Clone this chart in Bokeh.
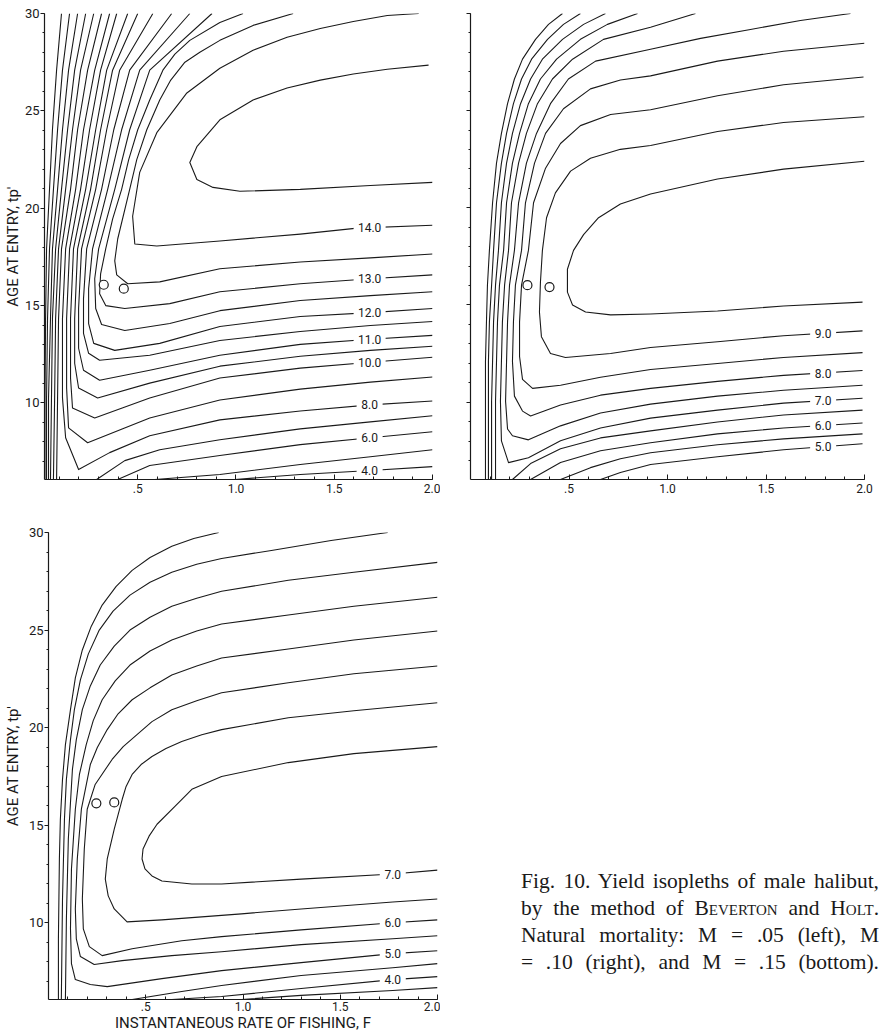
from bokeh.plotting import figure
from bokeh.models import Range1d, FixedTicker, Div
from bokeh.layouts import row, column
from bokeh.core.properties import value
from bokeh.embed import file_html
from bokeh.resources import INLINE

# ---------------- axes ----------------
X_TICKS = [0.5, 1.0, 1.5, 2.0]
X_TICK_LABELS = [".5", "1.0", "1.5", "2.0"]
X_MINOR = [0.1, 0.2, 0.3, 0.4, 0.5, 0.6, 0.7, 0.8, 0.9, 1.0,
           1.1, 1.2, 1.3, 1.4, 1.5, 1.6, 1.7, 1.8, 1.9, 2.0]
Y_TICKS = [10, 15, 20, 25, 30]
Y_TICK_LABELS = ["10", "15", "20", "25", "30"]
Y_MINOR = [7, 8, 9, 10, 11, 12, 13, 14, 15, 16, 17, 18, 19, 20, 21, 22, 23,
           24, 25, 26, 27, 28, 29, 30]

# ---------------- M = .05 (top left): isopleths (F, tp') ----------------
TL = [30, 27.09, 24.03, 20.97, 17.91, 14.34, 10.26, 6.07]
M05_LINES = {
    "2.0": ([.112, .087, .066, .051, .036, .031, .028, .028], TL),
    "3.0": ([.153, .117, .092, .071, .051, .041, .036, .036], TL),
    "4.0": ([.194, .148, .117, .092, .066, .056, .046, .046], TL),
    "5.0": ([.235, .179, .143, .112, .082, .066, .061, .056], TL),
    "6.0": ([.276, .209, .168, .133, .097, .082, .077, .071], TL),
    "7.0": ([.316, .245, .194, .158, .112, .097, .092, .087], TL),
    "4.0b": ([.995, 1.327, 1.684, 2.0], [6.07, 6.33, 6.53, 6.73]),
    "5.0b": ([.587, .918, 1.327, 1.684, 2.0], [6.07, 6.33, 6.84, 7.24, 7.60]),
    "6.0b": ([.398, .561, .918, 1.327, 1.684, 2.0], [6.07, 6.79, 7.30, 7.86, 8.21, 8.52]),
    "7.0b": ([.291, .434, .612, .918, 1.327, 1.684, 2.0], [6.07, 7.04, 7.60, 8.11, 8.67, 9.03, 9.34]),
    "8.0": ([.357, .281, .224, .184, .133, .117, .117, .133, .199, .357, .561, .918, 1.327, 1.684, 2.0],
            [30, 27.09, 24.03, 20.97, 17.91, 14.34, 10.26, 8.21, 6.58, 7.45, 8.32, 9.13, 9.59, 9.90, 10.10]),
    "9.0": ([.393, .311, .255, .209, .153, .138, .138, .148, .245, .561, .918, 1.327, 1.684, 2.0],
            [30, 27.09, 24.03, 20.97, 17.91, 14.34, 10.77, 8.72, 7.96, 9.23, 10.15, 10.71, 11.07, 11.33]),
    "10.0": ([.449, .342, .286, .235, .173, .158, .158, .168, .281, .561, .918, 1.327, 1.684, 2.0],
             [30, 27.09, 24.03, 20.97, 17.91, 14.34, 11.28, 9.74, 9.23, 10.26, 11.28, 11.79, 12.09, 12.35]),
    "10.5": ([.5, .372, .311, .260, .194, .179, .179, .199, .296, .561, .918, 1.327, 1.684, 2.0],
             [30, 27.09, 24.03, 20.97, 17.91, 14.34, 12.04, 10.77, 10.26, 11.02, 11.89, 12.40, 12.70, 12.91]),
    "11.0": ([.577, .408, .342, .286, .214, .199, .199, .224, .306, .561, .918, 1.327, 1.684, 2.0],
             [30, 27.09, 24.03, 20.97, 17.91, 14.85, 12.81, 11.68, 11.17, 11.68, 12.45, 13.01, 13.27, 13.47]),
    "11.5": ([.673, .459, .378, .316, .240, .224, .224, .250, .306, .561, .918, 1.327, 1.684, 2.0],
             [30, 27.09, 24.03, 20.97, 17.91, 15.36, 13.57, 12.55, 12.19, 12.45, 13.21, 13.67, 13.98, 14.18]),
    "12.0": ([.765, .510, .418, .347, .270, .250, .250, .276, .383, .612, .918, 1.327, 1.684, 2.0],
             [30, 27.09, 24.03, 20.97, 17.91, 15.87, 14.08, 13.06, 12.70, 13.06, 13.93, 14.44, 14.64, 14.85]),
    "12.5": ([.878, .561, .459, .383, .301, .281, .286, .316, .434, .663, .918, 1.327, 1.684, 2.0],
             [30, 27.09, 24.03, 20.97, 17.91, 16.38, 14.85, 14.03, 13.72, 14.08, 14.74, 15.26, 15.51, 15.71]),
    "13.0": ([1.036, .918, .765, .689, .628, .561, .5, .454, .418, .372, .337, .311, .306, .337, .434, .663, .918,
              1.327, 1.684, 2.0],
             [30, 29.54, 28.62, 27.91, 27.09, 25.56, 24.03, 22.50, 20.97, 19.44, 17.91, 16.63, 15.61, 15.0, 14.85,
              15.10, 15.71, 16.12, 16.38, 16.58]),
    "13.5": ([1.291, 1.087, .918, .816, .740, .668, .612, .546, .495, .459, .398, .383, .393, .449, .612, .918,
              1.327, 1.684, 2.0],
             [30, 29.39, 28.62, 28.01, 27.5, 26.58, 25.56, 24.03, 22.50, 20.97, 18.42, 17.30, 16.58, 16.12, 16.22,
              16.89, 17.24, 17.45, 17.65]),
    "14.0": ([1.93, 1.770, 1.597, 1.429, 1.26, 1.087, .918, .750, .597, .510, .474, .485, .597, .918, 1.327, 1.617, 2.0],
             [30, 29.90, 29.59, 29.23, 28.78, 28.11, 27.19, 25.92, 23.88, 21.84, 19.59, 18.16, 18.06, 18.32, 18.67,
              18.98, 19.13]),
    "14.5": ([1.980, 1.770, 1.597, 1.429, 1.26, 1.087, .918, .801, .765, .801, .883, 1.02, 1.327, 1.684, 2.0],
             [27.35, 27.14, 26.89, 26.58, 26.17, 25.56, 24.54, 23.16, 22.35, 21.48, 21.07, 20.87, 20.97, 21.17, 21.33]),
}
M05_LABEL_F = [1.68, 1.68, 1.68, 1.68, 1.68, 1.68, 1.68, 1.68]
M05_LABEL_T = [19.0, 16.38, 14.64, 13.27, 12.09, 9.90, 8.21, 6.53]
M05_LABEL_TEXT = ["14.0", "13.0", "12.0", "11.0", "10.0", "8.0", "6.0", "4.0"]
M05_CIRCLE_F = [.327, .429]
M05_CIRCLE_T = [16.07, 15.87]

# ---------------- M = .10 (top right) ----------------
TU = [30, 29.44, 28.67, 27.65, 26.63, 25.36, 23.83, 22.30, 20.26, 17.81, 16.02, 14.13, 12.09, 10.05, 6.02]
M10_LINES = {
    "5.0": ([.467, .396, .330, .264, .223, .188, .157, .132, .112, .096, .086, .081, .076, .076, .076], TU),
    "5.0b": ([.660, .761, .914, 1.254, 1.589, 1.990], [6.02, 6.38, 6.79, 7.19, 7.55, 7.86]),
    "5.5": ([.558, .472, .391, .310, .259, .218, .183, .157, .132, .117, .107, .096, .091, .091, .091], TU),
    "5.5b": ([.457, .609, .761, .914, 1.254, 1.589, 1.990], [6.02, 6.63, 7.09, 7.40, 7.81, 8.11, 8.37]),
    "6.0": ([.685, .574, .467, .365, .305, .254, .213, .183, .157, .142, .127, .117, .112, .107, .107], TU),
    "6.0b": ([.305, .457, .660, .914, 1.254, 1.589, 1.990], [6.02, 6.89, 7.50, 7.91, 8.37, 8.67, 8.93]),
    "6.5": ([.848, .695, .558, .437, .355, .294, .249, .213, .183, .168, .147, .137, .132, .127, .127], TU),
    "6.5b": ([.213, .305, .457, .660, .914, 1.254, 1.589, 1.990], [6.02, 6.84, 7.60, 8.16, 8.52, 8.98, 9.34, 9.59]),
    "7.0": ([1.142, .914, .675, .518, .416, .340, .284, .244, .208, .193, .173, .162, .157, .152, .157, .193, .294,
             .457, .660, .914, 1.254, 1.589, 1.990],
            [30, 29.29, 28.67, 27.65, 26.63, 25.36, 23.83, 22.30, 20.26, 17.81, 16.02, 14.13, 12.09, 10.05, 8.01, 6.89,
             7.14, 8.01, 8.67, 9.18, 9.59, 9.95, 10.20]),
    "7.5": ([1.929, 1.675, 1.421, 1.168, .914, .635, .497, .406, .335, .284, .244, .223, .198, .188, .183, .178, .188,
             .213, .294, .457, .660, .914, 1.254, 1.589, 1.990],
            [30, 29.64, 29.18, 28.72, 28.16, 27.55, 26.63, 25.36, 23.83, 22.30, 20.26, 17.81, 16.02, 14.13, 12.09, 10.05,
             8.62, 8.27, 8.06, 8.78, 9.44, 9.90, 10.31, 10.61, 10.87]),
    "8.0": ([2.0, 1.589, 1.254, .914, .761, .609, .472, .381, .325, .279, .259, .228, .218, .213, .223, .264, .305,
             .457, .660, .914, 1.254, 1.589, 1.990],
            [28.47, 28.06, 27.55, 26.79, 26.58, 26.12, 25.10, 23.83, 22.30, 20.26, 17.81, 16.02, 14.13, 12.09, 10.31,
             9.54, 9.29, 9.85, 10.36, 10.71, 11.07, 11.38, 11.63]),
    "8.5": ([1.995, 1.589, 1.254, .914, .711, .558, .457, .381, .320, .294, .259, .249, .249, .264, .315, .457, .660,
             .914, 1.254, 1.589, 1.990],
            [26.73, 26.33, 25.77, 25.05, 24.80, 24.23, 23.31, 22.04, 20.26, 17.81, 16.02, 14.13, 12.35, 11.17, 10.71,
             10.87, 11.28, 11.68, 11.99, 12.30, 12.55]),
    "9.0": ([2.0, 1.589, 1.254, .914, .761, .609, .508, .431, .386, .365, .355, .350, .360, .406, .482, .711, .914,
             1.254, 1.589, 1.990],
            [24.69, 24.39, 23.93, 23.21, 23.01, 22.55, 21.89, 20.77, 19.49, 17.81, 16.17, 14.64, 13.37, 12.50, 12.30,
             12.50, 12.81, 13.11, 13.42, 13.67]),
    "9.5": ([2.0, 1.589, 1.254, .914, .761, .650, .574, .523, .492, .492, .518, .584, .711, .914, 1.254, 1.589, 1.990],
            [22.40, 21.99, 21.48, 20.71, 20.20, 19.49, 18.62, 17.81, 16.84, 15.66, 15.00, 14.64, 14.49, 14.54, 14.69,
             14.95, 15.15]),
}
M10_LABEL_F = [1.79, 1.79, 1.79, 1.79, 1.79]
M10_LABEL_T = [13.55, 11.50, 10.08, 8.80, 7.70]
M10_LABEL_TEXT = ["9.0", "8.0", "7.0", "6.0", "5.0"]
M10_CIRCLE_F = [.289, .401]
M10_CIRCLE_T = [16.02, 15.92]

# ---------------- M = .15 (bottom) ----------------
M15_LINES = {
    "3.5": ([.875, .747, .634, .522, .430, .348, .276, .220, .174, .138, .113, .087, .072, .061, .056, .051, .051],
            [30, 29.69, 29.29, 28.72, 28.06, 27.24, 26.28, 25.20, 23.98, 22.55, 20.92, 19.13, 17.35, 15.31, 13.27,
             9.18, 6.07]),
    "3.5b": ([.992, 1.299, 1.770, 2.0], [6.07, 6.28, 6.53, 6.68]),
    "4.0": ([1.744, 1.453, 1.146, .890, .762, .634, .522, .419, .332, .261, .205, .164, .133, .113, .092, .082, .072,
             .066],
            [30, 29.59, 29.08, 28.67, 28.37, 27.96, 27.45, 26.79, 25.97, 25.0, 23.78, 22.45, 20.92, 19.39, 17.35,
             15.31, 11.22, 6.07]),
    "4.0b": ([.634, .890, 1.299, 1.770, 2.0], [6.07, 6.22, 6.63, 7.09, 7.24]),
    "4.5": ([2.0, 1.570, 1.233, .890, .762, .634, .522, .419, .338, .266, .215, .174, .143, .123, .102, .092, .087],
            [28.47, 27.96, 27.55, 26.99, 26.63, 26.22, 25.66, 25.0, 24.18, 23.21, 22.14, 20.92, 19.39, 17.86, 14.29,
             10.20, 6.07]),
    "4.5b": ([.430, .685, .890, 1.299, 1.770, 2.0], [6.07, 6.48, 6.79, 7.30, 7.70, 7.91]),
    "5.0": ([2.0, 1.570, 1.233, .890, .762, .634, .522, .419, .343, .276, .230, .194, .159, .138, .118, .113, .118,
             .138, .215, .302, .583, .890, 1.299, 1.770, 2.0],
            [26.68, 26.22, 25.77, 25.31, 24.95, 24.49, 23.93, 23.21, 22.40, 21.43, 20.36, 19.13, 17.60, 15.82, 12.76,
             9.69, 7.91, 7.09, 6.84, 6.73, 7.14, 7.55, 7.96, 8.42, 8.57]),
    "5.5": ([2.0, 1.570, 1.233, .890, .762, .634, .522, .430, .358, .302, .251, .215, .169, .148, .138, .143, .164,
             .235, .379, .634, .890, 1.299, 1.770, 2.0],
            [24.95, 24.49, 24.03, 23.57, 23.16, 22.70, 22.04, 21.43, 20.71, 19.90, 18.98, 18.11, 15.82, 13.27, 10.71,
             9.18, 8.27, 7.86, 8.06, 8.32, 8.52, 8.88, 9.18, 9.34]),
    "6.0": ([2.0, 1.570, 1.233, .890, .762, .634, .532, .455, .384, .327, .240, .199, .184, .174, .179, .210, .276,
             .430, .685, .890, 1.299, 1.770, 2.0],
            [23.16, 22.76, 22.30, 21.79, 21.38, 20.92, 20.31, 19.64, 19.03, 18.37, 17.09, 15.82, 13.78, 11.22, 9.69,
             8.78, 8.32, 8.67, 9.08, 9.29, 9.64, 10.0, 10.15]),
    "6.5": ([2.0, 1.570, 1.233, .890, .788, .685, .604, .532, .476, .430, .399, .379, .338, .302, .292, .307, .338,
             .404, .583, .992, 1.299, 1.770, 2.0],
            [21.28, 20.87, 20.51, 19.90, 19.64, 19.29, 18.93, 18.52, 18.11, 17.60, 16.99, 16.33, 14.80, 13.27, 12.24,
             11.38, 10.71, 10.05, 10.15, 10.46, 10.71, 11.07, 11.22]),
    "7.0": ([2.0, 1.570, 1.233, .890, .737, .650, .558, .517, .486, .481, .496, .532, .583, .737, .890, 1.299, 1.770, 2.0],
            [19.03, 18.67, 18.21, 17.50, 16.84, 15.97, 15.05, 14.44, 13.78, 13.27, 12.76, 12.40, 12.14, 11.99, 11.99,
             12.24, 12.50, 12.70]),
}
M15_LABEL_F = [1.77, 1.77, 1.77, 1.77]
M15_LABEL_T = [12.50, 10.0, 8.42, 7.09]
M15_LABEL_TEXT = ["7.0", "6.0", "5.0", "4.0"]
M15_CIRCLE_F = [.246, .338]
M15_CIRCLE_T = [16.12, 16.17]

Y_TITLE = "AGE AT ENTRY, tp'"
X_TITLE = "INSTANTANEOUS RATE OF FISHING, F"

FONT = "Roboto"
INK = "#1a1a1a"


def make_panel(lines, lab_f, lab_t, lab_s, circ_f, circ_t, x_start, y_start,
               width, height, borders, show_ylabels, ytitle=None, xtitle=None,
               ytitle_standoff=1, xlab_standoff=4):
    bl, br, bt, bb = borders
    p = figure(width=width, height=height,
               x_range=Range1d(x_start, 2.0), y_range=Range1d(y_start, 30.0),
               output_backend="svg", toolbar_location=None,
               min_border_left=bl, min_border_right=br,
               min_border_top=bt, min_border_bottom=bb,
               background_fill_color="white", border_fill_color="white",
               outline_line_color=None)
    p.xgrid.visible = False
    p.ygrid.visible = False
    keys = list(lines.keys())
    p.multi_line([lines[k][0] for k in keys], [lines[k][1] for k in keys],
                 line_color=INK, line_width=1.1, line_join="round")
    p.rect(x=lab_f, y=lab_t, width=[8 + 6 * len(s) for s in lab_s], height=9,
           width_units="screen", height_units="screen",
           fill_color="white", line_color=None)
    p.text(x=lab_f, y=lab_t, text=lab_s, text_align="center", text_baseline="middle",
           text_font=value(FONT), text_font_size="12px", text_color=INK)
    p.scatter(circ_f, circ_t, marker="circle", size=9, fill_color="white",
              line_color=INK, line_width=1.2)

    xa = p.xaxis[0]
    xa.ticker = FixedTicker(ticks=X_TICKS, minor_ticks=X_MINOR)
    xa.major_label_overrides = dict(zip(X_TICKS, X_TICK_LABELS))
    xa.major_tick_in = 5
    xa.major_tick_out = 0
    xa.minor_tick_in = 3
    xa.minor_tick_out = 0
    xa.major_label_standoff = xlab_standoff
    xa.major_label_text_font = FONT
    xa.major_label_text_font_size = "12px"
    xa.major_label_text_color = INK
    xa.axis_line_color = INK
    xa.axis_line_width = 1.2
    xa.major_tick_line_color = INK
    xa.minor_tick_line_color = INK
    if xtitle:
        xa.axis_label = xtitle
        xa.axis_label_text_font = FONT
        xa.axis_label_text_font_size = "15px"
        xa.axis_label_text_font_style = "normal"
        xa.axis_label_text_color = INK
        xa.axis_label_standoff = 0

    ya = p.yaxis[0]
    ya.ticker = FixedTicker(ticks=Y_TICKS, minor_ticks=Y_MINOR)
    if show_ylabels:
        ya.major_label_overrides = dict(zip(Y_TICKS, Y_TICK_LABELS))
    else:
        ya.major_label_overrides = dict(zip(Y_TICKS, ["" for _ in Y_TICKS]))
    ya.major_tick_in = 0
    ya.major_tick_out = 4
    ya.minor_tick_in = 0
    ya.minor_tick_out = 2
    ya.major_label_standoff = 1
    ya.axis_line_color = INK
    ya.axis_line_width = 1.2
    ya.major_tick_line_color = INK
    ya.minor_tick_line_color = INK
    ya.major_label_text_font = FONT
    ya.major_label_text_color = INK
    ya.major_label_text_font_size = "13px"
    if ytitle:
        ya.axis_label = ytitle
        ya.axis_label_text_font = FONT
        ya.axis_label_text_font_size = "15px"
        ya.axis_label_text_font_style = "normal"
        ya.axis_label_text_color = INK
        ya.axis_label_standoff = ytitle_standoff
    return p


p1 = make_panel(M05_LINES, M05_LABEL_F, M05_LABEL_T, M05_LABEL_TEXT, M05_CIRCLE_F, M05_CIRCLE_T,
                0.0255, 6.07, 440, 510, (39, 8, 13, 28), True, ytitle=Y_TITLE, ytitle_standoff=0)
p2 = make_panel(M10_LINES, M10_LABEL_F, M10_LABEL_T, M10_LABEL_TEXT, M10_CIRCLE_F, M10_CIRCLE_T,
                0.0, 6.02, 441, 510, (30, 17, 9, 31), False)
p3 = make_panel(M15_LINES, M15_LABEL_F, M15_LABEL_T, M15_LABEL_TEXT, M15_CIRCLE_F, M15_CIRCLE_T,
                0.0, 6.07, 440, 524, (46, 3, 22, 33), True, ytitle=Y_TITLE, xtitle=X_TITLE,
                ytitle_standoff=4, xlab_standoff=2)

SC = 'font-variant:small-caps'
LINE = ('<div style="text-align:justify;text-align-last:justify;white-space:nowrap;'
        'height:27px;">{}</div>')
caption_lines = [
    "Fig. 10. Yield isopleths of male halibut,",
    'by the method of <span style="%s">Beverton</span> and <span style="%s">Holt</span>.' % (SC, SC),
    "Natural mortality: M = .05 (left), M",
    "= .10 (right), and M = .15 (bottom).",
]
cap_html = ('<div style="padding:358px 0 0 81px;margin:0;">'
            '<div style="width:358px;font-family:\'Liberation Serif\',serif;font-size:21.5px;'
            'line-height:27px;color:#1a1a1a;">' + "".join(LINE.format(t) for t in caption_lines) +
            '</div></div>')
caption = Div(text=cap_html, width=441, height=524, margin=0)

layout = column(row(p1, p2), row(p3, caption))
open("out.html", "w").write(file_html(layout, INLINE))
